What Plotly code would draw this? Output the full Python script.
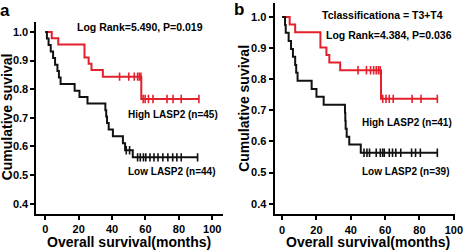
import numpy as np
import plotly.graph_objects as go

# ---------------- data ----------------
# Panel a
a_high_times = [0, 3.9, 7.8, 23.5, 26, 27.7, 34.5, 57.5]
a_high_surv = [1.0, 0.978, 0.956, 0.911, 0.889, 0.867, 0.844, 0.766]
a_high_end = 92
a_high_cens = [44.5, 50, 53.3, 55.3, 56.3, 57.3, 58.6, 59.8, 61.8, 64.5, 72.9, 76.5, 81.4, 92]

a_low_times = [0, 1, 2, 3.3, 4.7, 5.9, 7.3, 8.2, 9.2, 17.6, 20.5, 25.3, 36, 36.5, 37, 38, 40.5, 46.5, 47.8, 52.4]
a_low_surv = [1.0, 0.977, 0.955, 0.932, 0.909, 0.886, 0.864, 0.841, 0.818, 0.795, 0.773, 0.75,
              0.727, 0.705, 0.682, 0.659, 0.636, 0.611, 0.587, 0.562]
a_low_end = 91.2
a_low_cens = [48.5, 50.5, 55.3, 56.9, 58.8, 60.2, 62.7, 65.1, 67.5, 70.4, 73.4, 76.3, 78.8, 81.4, 91.2]

# Panel b
b_high_times = [0, 4.4, 7.6, 22.3, 25.8, 27.5, 33.8, 57.6]
b_high_surv = [1.0, 0.976, 0.951, 0.902, 0.878, 0.854, 0.829, 0.737]
b_high_end = 90.4
b_high_cens = [44.2, 49.1, 51.5, 53.3, 54.8, 56.1, 57.1, 58.6, 60.5, 62.4, 64.7, 75.7, 80.9, 90.4]

b_low_times = [0, 1.7, 2.1, 3.8, 5.2, 6.3, 7.6, 8.2, 9.0, 17.2, 20.0, 24.2, 36.6, 36.8, 37.0, 37.6, 39.1, 45.8]
b_low_surv = [1.0, 0.974, 0.949, 0.923, 0.897, 0.872, 0.846, 0.821, 0.795, 0.769, 0.744, 0.718,
              0.692, 0.667, 0.641, 0.615, 0.590, 0.564]
b_low_end = 90.4
b_low_cens = [47.7, 49.4, 50.9, 54.8, 57.2, 58.6, 59.5, 62.4, 64.3, 66.2, 69.1, 75.4, 77.7, 80.5, 90.4]

x_ticks = [0, 20, 40, 60, 80, 100]
y_ticks = [0.4, 0.5, 0.6, 0.7, 0.8, 0.9, 1.0]

RED = "#e3202b"
BLACK = "#111111"
FONT = "Liberation Sans, Arial, sans-serif"

W, H = 472, 250


def surv_at(times, surv, t):
    idx = np.searchsorted(np.array(times), t, side="right") - 1
    return surv[max(idx, 0)]


def add_curve(fig, times, surv, end, cens, color, xa, ya):
    xs = list(times) + [end]
    ys = list(surv) + [surv[-1]]
    fig.add_trace(go.Scatter(x=xs, y=ys, mode="lines", line=dict(color=color, width=2, shape="hv"),
                             xaxis=xa, yaxis=ya, showlegend=False, hoverinfo="skip"))
    cy = [surv_at(times, surv, c) for c in cens]
    fig.add_trace(go.Scatter(x=cens, y=cy, mode="markers",
                             marker=dict(symbol="line-ns-open", size=6, color=color,
                                         line=dict(color=color, width=1.6)),
                             xaxis=xa, yaxis=ya, showlegend=False, hoverinfo="skip"))


fig = go.Figure()
add_curve(fig, a_high_times, a_high_surv, a_high_end, a_high_cens, RED, "x", "y")
add_curve(fig, a_low_times, a_low_surv, a_low_end, a_low_cens, BLACK, "x", "y")
add_curve(fig, b_high_times, b_high_surv, b_high_end, b_high_cens, RED, "x2", "y2")
add_curve(fig, b_low_times, b_low_surv, b_low_end, b_low_cens, BLACK, "x2", "y2")


def px(x):
    return x / W


def py(y):
    return 1 - y / H


axis_common = dict(showline=True, linewidth=2, linecolor="black", showgrid=False, zeroline=False,
                   ticks="outside", ticklen=4, tickwidth=2, tickcolor="black",
                   tickfont=dict(family=FONT, size=11, color="black", weight="bold"))

fig.update_layout(
    width=W, height=H, margin=dict(l=0, r=0, t=0, b=0),
    paper_bgcolor="white", plot_bgcolor="white", showlegend=False,
    xaxis=dict(domain=[px(37), px(227)], range=[-5.3, 106.5], tickvals=x_ticks, anchor="y", **axis_common),
    yaxis=dict(domain=[py(214), py(22)], range=[0.364, 1.035], tickvals=y_ticks, tickformat=".1f",
               anchor="x", **axis_common),
    xaxis2=dict(domain=[px(279.3), px(462.7)], range=[-4.4, 100.6], tickvals=x_ticks, anchor="y2", **axis_common),
    yaxis2=dict(domain=[py(214.3), py(3)], range=[0.366, 1.045], tickvals=y_ticks, tickformat=".1f",
                anchor="x2", **axis_common),
)


def ann(text, x, y, size, angle=0, xanchor="center"):
    fig.add_annotation(text=text, x=px(x), y=py(y), xref="paper", yref="paper", showarrow=False,
                       xanchor=xanchor, yanchor="middle", textangle=angle,
                       font=dict(family=FONT, size=size, color="black", weight="bold"))


# panel letters
ann("a", 5, 10.5, 17)
ann("b", 243, 9.5, 17)
# axis titles
ann("Overall survival(months)", 131, 241.5, 14)
ann("Overall survival(months)", 374, 241.5, 14)
ann("Cumulative suvival", 8, 116.5, 14, angle=-90)
ann("Cumulative suvival", 248, 108, 14, angle=-90)
# panel a texts
ann("Log Rank=5.490, P=0.019", 142.5, 26.7, 10.5)
ann("High LASP2 (n=45)", 176, 115, 10)
ann("Low LASP2 (n=44)", 175, 171.7, 10)
# panel b texts
ann("Tclassificationa = T3+T4", 389, 15, 10.5)
ann("Log Rank=4.384, P=0.036", 395.7, 35, 10.5)
ann("High LASP2 (n=41)", 414, 122.7, 10)
ann("Low LASP2 (n=39)", 412.5, 171.7, 10)

fig.write_html("out.html", config={"displayModeBar": False},
               post_script="document.body.style.margin='0';document.body.style.overflow='hidden';")
